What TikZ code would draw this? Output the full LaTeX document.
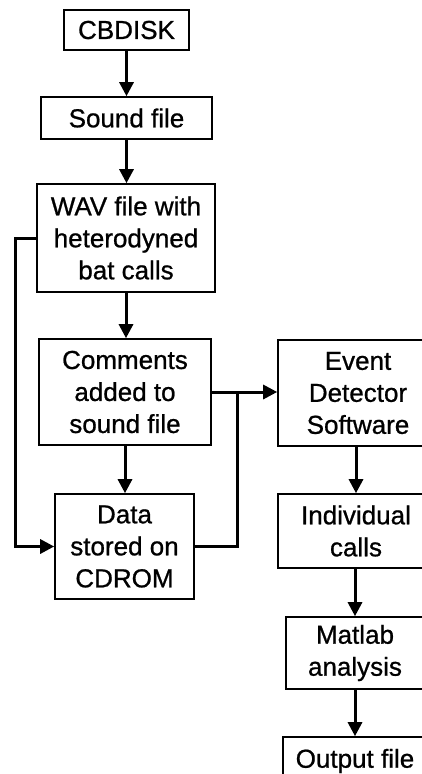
\documentclass[tikz,border=0pt]{standalone}
\usepackage{fontspec}
\setmainfont{Liberation Sans}[FakeBold=0.8]
\usetikzlibrary{arrows.meta,calc}
\begin{document}
\begin{tikzpicture}[x=1pt,y=-1pt,
  box/.style={draw=black,line width=1.6pt,align=center,inner sep=0pt,
    font=\fontsize{26}{32}\selectfont},
  arr/.style={line width=3pt,-{Triangle[length=14pt,width=14pt]}},
  ln/.style={line width=3pt}]
\useasboundingbox (0,0) rectangle (422,774);
\clip (0,0) rectangle (422,774);
\fill[white] (0,0) rectangle (422,774);
\node[box,minimum width=125pt,minimum height=40pt] (cb) at (126.5,30) {CBDISK};
\node[box,minimum width=171pt,minimum height=42pt] (snd) at (126.5,118) {Sound file};
\node[box,minimum width=178pt,minimum height=108pt] (wav) at (126,238) {WAV file with\\heterodyned\\bat calls};
\node[box,minimum width=172pt,minimum height=106pt] (com) at (125,392) {Comments\\added to\\sound file};
\node[box,minimum width=139pt,minimum height=105pt] (dat) at (124.5,546.5) {Data\\stored on\\CDROM};
\node[box,minimum width=160pt,minimum height=106pt] (ev) at (358,393) {Event\\Detector\\Software};
\node[box,minimum width=156pt,minimum height=74pt] (ind) at (356,531) {Individual\\calls};
\node[box,minimum width=138pt,minimum height=72pt] (mat) at (355,653) {Matlab\\analysis};
\node[box,minimum width=144pt,minimum height=48pt] (out) at (355,761) {Output file};
\coordinate (lx) at (15,0);
\coordinate (jn) at (237,392);
\draw[arr] (cb.south) -- (snd.north);
\draw[arr] (snd.south) -- (snd.south |- wav.north);
\draw[arr] (wav.south) -- (wav.south |- com.north);
\draw[arr] (com.south) -- (com.south |- dat.north);
\draw[arr] (wav.west) -- (wav.west -| lx) |- (dat.west);
\draw[arr] (com.east) -- (com.east -| ev.west);
\draw[ln] (dat.east) -| (jn);
\draw[arr] (ev.south -| ind.north) -- (ind.north);
\draw[arr] (ind.south -| mat.north) -- (mat.north);
\draw[arr] (mat.south) -- (mat.south |- out.north);
\end{tikzpicture}
\end{document}
